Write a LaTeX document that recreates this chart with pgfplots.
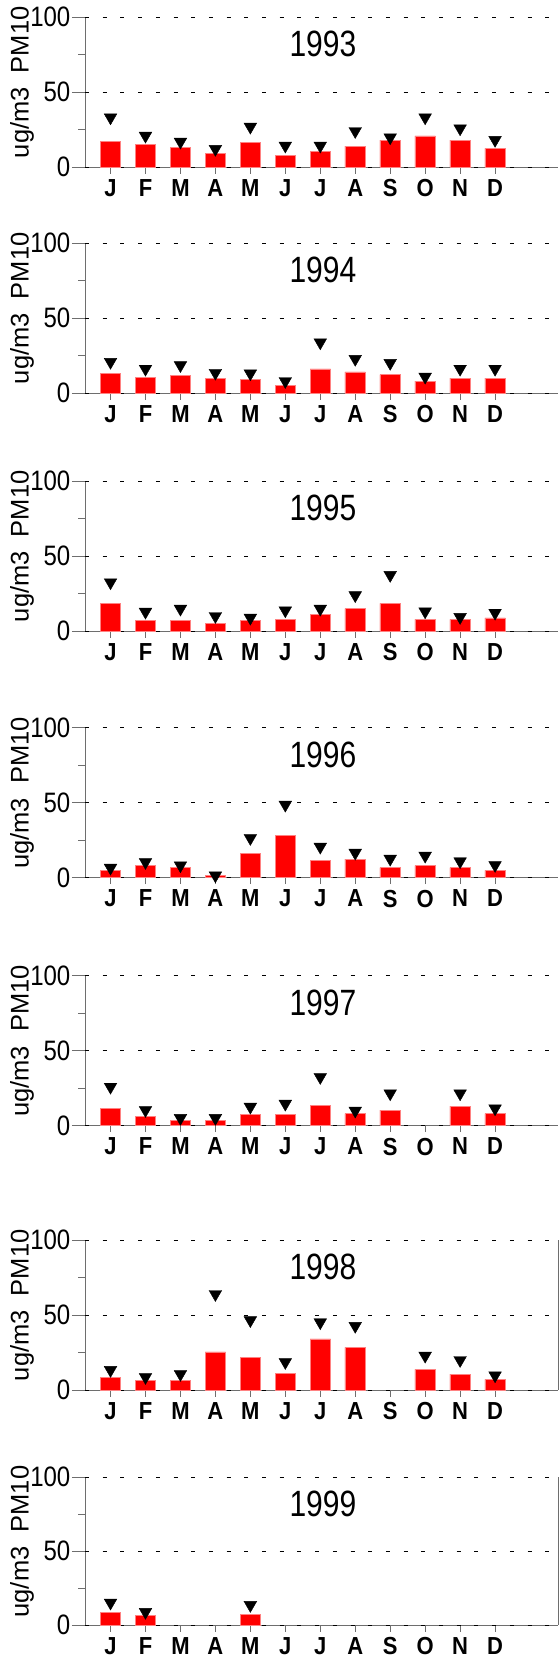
\documentclass[border=0pt]{standalone}
\usepackage{fontspec}
\setmainfont{Liberation Sans}
\usepackage{pgfplots}
\pgfplotsset{compat=1.18}

\definecolor{barred}{RGB}{255,0,0}
\definecolor{baredge}{RGB}{255,130,130}
\definecolor{axisgray}{RGB}{110,110,110}

\pgfplotsset{
  pmpanel/.style={
    scale only axis, width=473pt, height=150pt,
    anchor=south west,
    xmin=0.27, xmax=13.8, ymin=0, ymax=100,
    clip=false,
    axis x line*=bottom, axis y line*=left,
    xtick pos=bottom, ytick pos=left,
    axis line style={axisgray, line width=0.9pt},
    tick align=outside,
    major tick length=6.5pt,
    tick style={axisgray, line width=0.9pt},
    xtick={1,...,12},
    xticklabels={J,F,M,A,M,J,J,A,S,O,N,D},
    % short unlabelled ticks at 25 and 75
    ytick={25,75}, yticklabels={},
    % long labelled ticks with dashed grid at 0, 50, 100
    extra y ticks={0,50,100}, extra y tick labels={0,50,100},
    extra y tick style={major tick length=13pt, grid=major},
    major grid style={black, line width=0.8pt, dash pattern=on 4pt off 13.7pt},
    xticklabel style={font=\fontsize{22}{24}\selectfont\bfseries, yscale=1.12, yshift=-1.5pt},
    yticklabel style={font=\fontsize{24}{26}\selectfont, yscale=1.17, inner sep=1.5pt},
    ylabel={ug/m3\ \ PM10},
    ylabel style={at={(axis description cs:-0.133,0.565)}, anchor=center,
      font=\fontsize{25.5}{27}\selectfont},
    title style={at={(axis description cs:0.503,0.78)}, anchor=center,
      font=\fontsize{30}{32}\selectfont, yscale=1.22},
  },
  pmbar/.style={ybar, bar shift=0pt, bar width=20.5pt, fill=barred, draw=baredge, line width=0.6pt},
  pmmax/.style={only marks, mark=triangle*, mark size=7.3pt,
    mark options={rotate=180, fill=black, draw=black}},
}

\begin{document}
\begin{tikzpicture}
\useasboundingbox (0,0) rectangle (558pt,-1662pt);

% 1993
\begin{axis}[pmpanel, at={(85pt,-167pt)}, title={1993}]
\addplot[pmbar] coordinates {(1,17) (2,15) (3,13.3) (4,9) (5,16.4) (6,8) (7,10.4) (8,14) (9,18) (10,20.8) (11,18) (12,12.4)};
\addplot[pmmax] coordinates {(1,33) (2,20.8) (3,16.8) (4,12) (5,26.8) (6,14.2) (7,14.2) (8,23.9) (9,19.7) (10,33) (11,25.7) (12,18)};
\end{axis}

% 1994
\begin{axis}[pmpanel, at={(85pt,-393pt)}, title={1994}]
\addplot[pmbar] coordinates {(1,13) (2,10.6) (3,11.7) (4,9.9) (5,9.3) (6,5.1) (7,16.1) (8,14.1) (9,12.3) (10,7.9) (11,9.9) (12,9.9)};
\addplot[pmmax] coordinates {(1,20.7) (2,16.1) (3,18.5) (4,13.4) (5,13) (6,7.9) (7,33.7) (8,22.7) (9,20) (10,10.8) (11,16.1) (12,16.1)};
\end{axis}

% 1995
\begin{axis}[pmpanel, at={(85pt,-631pt)}, title={1995}]
\addplot[pmbar] coordinates {(1,18.5) (2,7.1) (3,7.1) (4,5.1) (5,7.1) (6,7.7) (7,11.3) (8,15) (9,18.5) (10,7.7) (11,7.7) (12,8.8)};
\addplot[pmmax] coordinates {(1,32.4) (2,12.8) (3,14.8) (4,9.9) (5,8.8) (6,13.7) (7,14.8) (8,23.8) (9,37.3) (10,13) (11,9.3) (12,12.1)};
\end{axis}

% 1996
\begin{axis}[pmpanel, at={(85pt,-877.7pt)}, title={1996}]
\addplot[pmbar] coordinates {(1,4.9) (2,8) (3,6.7) (4,1.8) (5,16) (6,28.2) (7,11.8) (8,12.4) (9,6.7) (10,8) (11,6.7) (12,4.9)};
\addplot[pmmax] coordinates {(1,6.6) (2,10.4) (3,8.2) (4,1.5) (5,26.4) (6,48.6) (7,20.6) (8,16.6) (9,12.6) (10,14.6) (11,10.9) (12,8.4)};
\end{axis}

% 1997 (no data for October)
\begin{axis}[pmpanel, at={(85pt,-1125.7pt)}, title={1997}]
\addplot[pmbar] coordinates {(1,11.8) (2,6.2) (3,3.5) (4,3.5) (5,7.3) (6,7.3) (7,13.5) (8,8) (9,10.4) (11,13.1) (12,8)};
\addplot[pmmax] coordinates {(1,25.9) (2,10.4) (3,5.1) (4,5.1) (5,12.6) (6,14.6) (7,32.4) (8,10) (9,21.5) (11,21.5) (12,11.5)};
\end{axis}

% 1998 (no data for September)
\begin{axis}[pmpanel, at={(85pt,-1390pt)}, title={1998}, axis y line*=box]
\addplot[pmbar] coordinates {(1,8.2) (2,6.4) (3,6.4) (4,25.4) (5,21.9) (6,11.3) (7,34.1) (8,28.5) (10,13.7) (11,10.6) (12,7.1)};
\addplot[pmmax] coordinates {(1,13.3) (2,8.6) (3,10.6) (4,63.9) (5,46.5) (6,18.6) (7,45.1) (8,42.7) (10,22.8) (11,19.9) (12,9.7)};
\end{axis}

% 1999 (January, February and May only)
\begin{axis}[pmpanel, at={(85pt,-1625pt)}, height=147.7pt, title={1999}, axis y line*=box]
\addplot[pmbar] coordinates {(1,8.8) (2,6.3) (5,7)};
\addplot[pmmax] coordinates {(1,15.1) (2,8.8) (5,13.5)};
\end{axis}
\end{tikzpicture}
\end{document}
